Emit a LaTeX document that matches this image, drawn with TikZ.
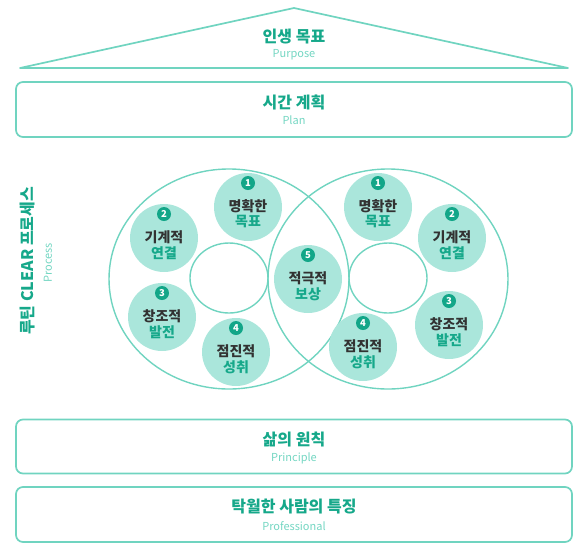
\documentclass[tikz,border=0pt]{standalone}
\usepackage{fontspec}
\setmainfont{Noto Sans CJK KR}
\usetikzlibrary{shapes.geometric}
\definecolor{cline}{RGB}{112,212,192}
\definecolor{tdark}{RGB}{22,168,138}
\definecolor{tlight}{RGB}{116,214,194}
\definecolor{nfill}{RGB}{170,230,219}
\definecolor{bdg}{RGB}{18,166,136}
\definecolor{gtext}{RGB}{50,50,50}
\tikzset{
  box/.style={draw=cline, line width=1.7pt, rounded corners=7pt},
  ttl/.style={font=\bfseries\fontsize{16}{18}\selectfont, text=tdark, inner sep=0pt},
  subt/.style={font=\fontsize{11}{13}\selectfont, text=tlight, inner sep=0pt},
  bigring/.style={draw=cline, line width=1.4pt, ellipse, minimum width=240pt, minimum height=220pt, inner sep=0pt},
  hole/.style={draw=cline, line width=1.4pt, ellipse, minimum width=78pt, minimum height=70pt, inner sep=0pt},
  bub/.style={circle, fill=nfill, minimum size=68pt, inner sep=0pt},
  badge/.style={circle, fill=bdg, minimum size=14pt, inner sep=0pt, text=white, font=\bfseries\fontsize{9.5}{10}\selectfont},
  lineone/.style={text=gtext, font=\bfseries\fontsize{14}{15}\selectfont, inner sep=0pt},
  linetwo/.style={text=tdark, font=\bfseries\fontsize{14}{15}\selectfont, inner sep=0pt}
}
\newcommand\mybubble[5]{%
  \node[bub] (#1) at (#2) {};
  \node[badge] (#1n) at ([yshift=24pt]#1.center) {#3};
  \node[lineone] (#1a) at ([yshift=0.5pt]#1.center) {#4};
  \node[linetwo] (#1b) at ([yshift=-15pt]#1.center) {#5};
}
\begin{document}
\begin{tikzpicture}[x=1pt, y=-1pt]
\useasboundingbox (0,0) rectangle (588,547);
% roof
\draw[draw=cline, line width=1.7pt, line join=round] (20,68) -- (294,8) -- (568,68) -- cycle;
\node[ttl] (purp) at (294,37) {인생 목표};
\node[subt] (purpE) at (294,55) {Purpose};
% plan
\node[box, minimum width=556pt, minimum height=55pt] (plan) at (294,109.5) {};
\node[ttl] (planK) at (294,102) {시간 계획};
\node[subt] (planE) at (294,120) {Plan};
% process rings
\node[bigring] (L) at (229,279) {};
\node[bigring] (R) at (388,279) {};
\node[hole] (Lh) at (229,278) {};
\node[hole] (Rh) at (388,278) {};
\mybubble{la}{248,207}{1}{명확한}{목표}
\mybubble{lb}{164,238}{2}{기계적}{연결}
\mybubble{lc}{162,317}{3}{창조적}{발전}
\mybubble{ld}{236,352}{4}{점진적}{성취}
\mybubble{e}{308,279}{5}{적극적}{보상}
\mybubble{ra}{378,207}{1}{명확한}{목표}
\mybubble{rb}{452,238}{2}{기계적}{연결}
\mybubble{rc}{449,325}{3}{창조적}{발전}
\mybubble{rd}{363,347}{4}{점진적}{성취}
\node[ttl, rotate=90] (procK) at (28,261) {루틴 CLEAR 프로세스};
\node[subt, rotate=90] (procE) at (48,263) {Process};
% principle
\node[box, minimum width=556pt, minimum height=54pt] (prin) at (294,446.5) {};
\node[ttl] (prinK) at (294,439) {삶의 원칙};
\node[subt] (prinE) at (294,458) {Principle};
% professional
\node[box, minimum width=556pt, minimum height=55pt] (prof) at (294,514.5) {};
\node[ttl] (profK) at (294,507) {탁월한 사람의 특징};
\node[subt] (profE) at (294,526) {Professional};
\end{tikzpicture}
\end{document}
